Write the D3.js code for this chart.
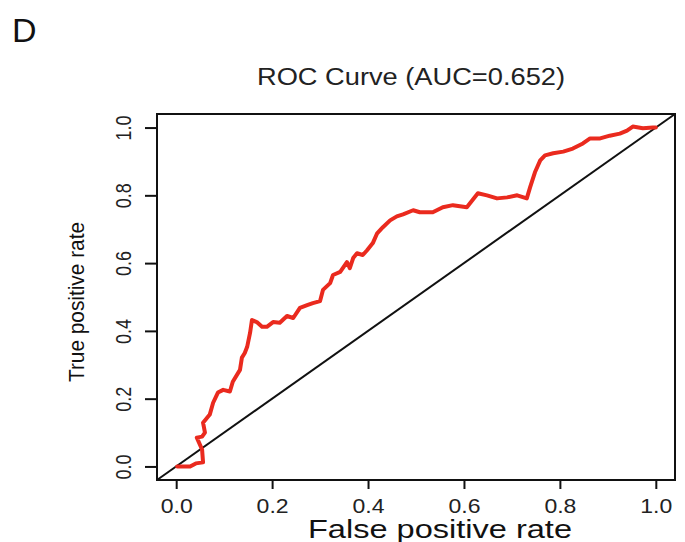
<!DOCTYPE html>
<html>
<head>
<meta charset="utf-8">
<script src="https://cdn.jsdelivr.net/npm/d3@7"></script>
<style>
  html, body { margin: 0; padding: 0; background: #fff; }
  svg { display: block; font-family: "Liberation Sans", Arial, Helvetica, sans-serif; }
</style>
</head>
<body>
<svg id="chart" width="685" height="542"></svg>
<script>
// ---- data ----
const panelLabel = "D";
const chartTitle = "ROC Curve (AUC=0.652)";
const xTitle = "False positive rate";
const yTitle = "True positive rate";
const xTicks = [0, 0.2, 0.4, 0.6, 0.8, 1.0];
const yTicks = [0, 0.2, 0.4, 0.6, 0.8, 1.0];
const fpr = [0.002,0.029,0.041,0.056,0.054,0.043,0.054,0.060,0.056,0.070,0.077,0.087,0.098,0.112,0.118,0.133,0.137,0.143,0.148,0.154,0.158,0.168,0.179,0.189,0.202,0.216,0.231,0.244,0.258,0.273,0.285,0.300,0.306,0.321,0.327,0.342,0.356,0.362,0.369,0.377,0.389,0.398,0.410,0.419,0.431,0.446,0.460,0.473,0.494,0.508,0.535,0.556,0.577,0.606,0.629,0.648,0.669,0.690,0.711,0.731,0.738,0.748,0.759,0.769,0.786,0.807,0.827,0.848,0.863,0.884,0.904,0.925,0.940,0.952,0.973,0.994,1.000];
const tpr = [0.000,0.000,0.009,0.012,0.050,0.085,0.088,0.100,0.129,0.153,0.188,0.218,0.226,0.221,0.250,0.285,0.321,0.335,0.353,0.394,0.432,0.426,0.412,0.412,0.426,0.424,0.444,0.438,0.468,0.476,0.482,0.488,0.521,0.541,0.565,0.574,0.603,0.585,0.615,0.629,0.624,0.638,0.659,0.688,0.706,0.726,0.738,0.744,0.756,0.750,0.750,0.765,0.771,0.765,0.806,0.800,0.791,0.794,0.800,0.791,0.824,0.868,0.903,0.918,0.924,0.929,0.938,0.953,0.968,0.968,0.976,0.982,0.991,1.003,0.998,1.000,1.000];

// ---- drawing ----
const svg = d3.select("#chart");
const x = d3.scaleLinear().domain([-0.04, 1.04]).range([157, 675]);
const y = d3.scaleLinear().domain([-0.04, 1.04]).range([480, 114]);
const fmt = d3.format(".1f");

// panel label
svg.append("text").attr("x", 12).attr("y", 42)
  .attr("font-size", 34).attr("fill", "#111").text(panelLabel);

// title
svg.append("text").attr("x", 411).attr("y", 85)
  .attr("text-anchor", "middle").attr("font-size", 23).attr("fill", "#222")
  .attr("textLength", 308).attr("lengthAdjust", "spacingAndGlyphs")
  .text(chartTitle);

// diagonal reference line (corner to corner of the plot region)
svg.append("line")
  .attr("x1", x(x.domain()[0])).attr("y1", y(y.domain()[0]))
  .attr("x2", x(x.domain()[1])).attr("y2", y(y.domain()[1]))
  .attr("stroke", "#111").attr("stroke-width", 2);

// ROC curve
const pts = fpr.map((v, i) => [v, tpr[i]]);
svg.append("path").datum(pts)
  .attr("fill", "none").attr("stroke", "#ea2a1e").attr("stroke-width", 4)
  .attr("stroke-linejoin", "round").attr("stroke-linecap", "round")
  .attr("d", d3.line().x(d => x(d[0])).y(d => y(d[1])));

// box
svg.append("rect")
  .attr("x", x.range()[0]).attr("y", y.range()[1])
  .attr("width", x.range()[1] - x.range()[0]).attr("height", y.range()[0] - y.range()[1])
  .attr("fill", "none").attr("stroke", "#111").attr("stroke-width", 2);

// x axis
const xAxis = d3.axisBottom(x).tickValues(xTicks).tickFormat(fmt).tickSize(9).tickPadding(9);
const gx = svg.append("g").attr("transform", `translate(0,${y.range()[0]})`).call(xAxis);
gx.select(".domain").remove();
gx.selectAll(".tick line").attr("stroke", "#111").attr("stroke-width", 2);
gx.selectAll(".tick text").attr("font-size", 20).attr("fill", "#222")
  .attr("font-family", "Liberation Sans, Arial, sans-serif")
  .attr("dy", null).attr("y", 33)
  .attr("textLength", 32).attr("lengthAdjust", "spacingAndGlyphs");

// y axis
const yAxis = d3.axisLeft(y).tickValues(yTicks).tickFormat(fmt).tickSize(12).tickPadding(6);
const gy = svg.append("g").attr("transform", `translate(${x.range()[0]},0)`).call(yAxis);
gy.select(".domain").remove();
gy.selectAll(".tick line").attr("stroke", "#111").attr("stroke-width", 2);
gy.selectAll(".tick text")
  .attr("font-size", 19).attr("fill", "#222")
  .attr("font-family", "Liberation Sans, Arial, sans-serif")
  .attr("x", null).attr("dy", null)
  .attr("text-anchor", "middle")
  .attr("transform", "translate(-26,0) scale(1.15,1) rotate(-90)")
  .attr("textLength", 25).attr("lengthAdjust", "spacingAndGlyphs");

// axis titles
svg.append("text")
  .attr("x", 440).attr("y", 538)
  .attr("text-anchor", "middle").attr("font-size", 25).attr("fill", "#111")
  .attr("textLength", 264).attr("lengthAdjust", "spacingAndGlyphs")
  .text(xTitle);

svg.append("text")
  .attr("transform", "translate(84,302) rotate(-90)")
  .attr("text-anchor", "middle").attr("font-size", 22).attr("fill", "#111")
  .attr("textLength", 160).attr("lengthAdjust", "spacingAndGlyphs")
  .text(yTitle);
</script>
</body>
</html>
